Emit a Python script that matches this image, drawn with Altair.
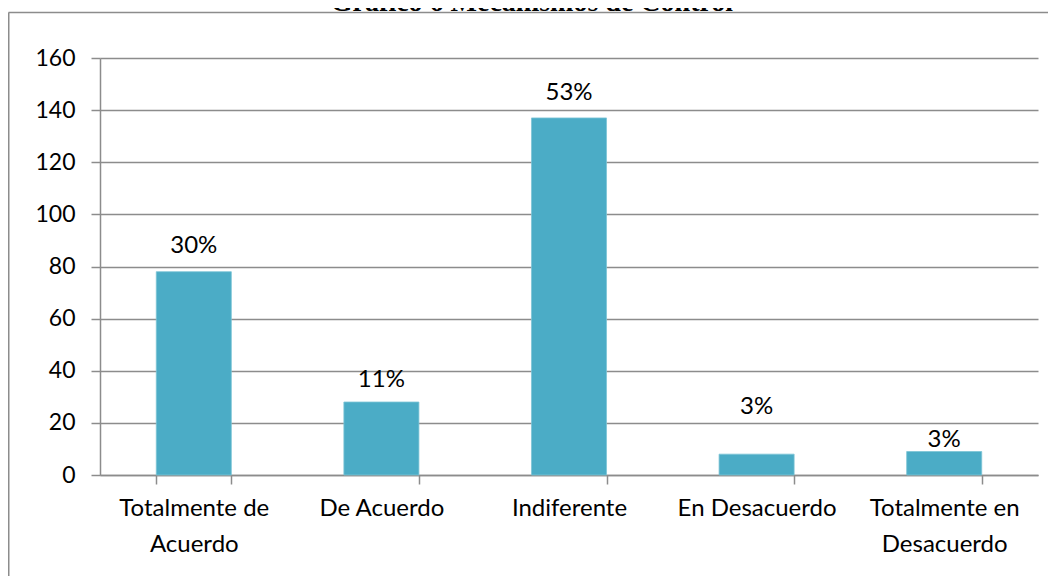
import altair as alt
import pandas as pd

categories = ["Totalmente de Acuerdo", "De Acuerdo", "Indiferente", "En Desacuerdo", "Totalmente en Desacuerdo"]
values = [78, 28, 137, 8, 9]
pct_labels = ["30%", "11%", "53%", "3%", "3%"]
label_at = [88, 36.5, 146.5, 26, 13.5]
y_ticks = [0, 20, 40, 60, 80, 100, 120, 140, 160]
title_text = "Gráfico  6 Mecanismos de Control"

line_breaks = {
    "Totalmente de Acuerdo": ["Totalmente de", "Acuerdo"],
    "Totalmente en Desacuerdo": ["Totalmente en", "Desacuerdo"],
}

df = pd.DataFrame({"cat": categories, "val": values, "lab": pct_labels, "lab_at": label_at})

expr = "datum.label"
for k, v in line_breaks.items():
    expr = f"datum.label == '{k}' ? ['{v[0]}', '{v[1]}'] : ({expr})"

FONT = "Lato"
GRAY = "#8c8c8c"
W, H = 938, 417
PL, PT, PR, PB = 92, 50, 10, 101

x_enc = alt.X(
    "cat:N", sort=categories, title=None,
    scale=alt.Scale(paddingInner=0.6, paddingOuter=0.3),
    axis=alt.Axis(
        labelExpr=expr, labelAngle=0, labelFont=FONT, labelFontSize=24,
        labelColor="black", labelLineHeight=36, labelPadding=12,
        tickBand="extent", tickSize=9, tickColor=GRAY, tickWidth=1.5,
        domainColor=GRAY, domainWidth=1.5, grid=False, labelBaseline="top",
    ),
)
y_scale = alt.Scale(domain=[0, 160], nice=False)

bars = alt.Chart(df).mark_bar(color="#4BACC6", stroke="#7cc4d6", strokeWidth=0.8).encode(
    x=x_enc,
    y=alt.Y(
        "val:Q", scale=y_scale, title=None,
        axis=alt.Axis(
            values=y_ticks, labelFont=FONT, labelFontSize=23, labelColor="black",
            tickSize=9, tickColor=GRAY, tickWidth=1.5, labelPadding=16,
            domainColor=GRAY, domainWidth=1.5, gridColor=GRAY, gridWidth=1.5,
        ),
    ),
)

texts = alt.Chart(df).mark_text(font=FONT, fontSize=24, color="black", baseline="middle").encode(
    x=alt.X("cat:N", sort=categories),
    y=alt.Y("lab_at:Q", scale=y_scale),
    text="lab:N",
)

one = pd.DataFrame({"t": [title_text]})
frame_top = alt.Chart(one).mark_rule(color=GRAY, strokeWidth=1.5).encode(
    x=alt.value(-PL + 0.5), x2=alt.value(W + PR), y=alt.value(-PT + 4.5)
)
frame_left = alt.Chart(one).mark_rule(color=GRAY, strokeWidth=1.5).encode(
    x=alt.value(-PL + 0.75), y=alt.value(-PT + 4.5), y2=alt.value(H + PB)
)
title = alt.Chart(one).mark_text(
    font="Liberation Serif", fontWeight="bold", fontSize=28, color="black",
    baseline="alphabetic", align="center",
).encode(x=alt.value(432), y=alt.value(-PT + 3), text="t:N")

chart = alt.layer(bars, texts, frame_top, frame_left, title).properties(
    width=W, height=H,
    autosize=alt.AutoSizeParams(type="none"),
    padding={"left": PL, "top": PT, "right": PR, "bottom": PB},
).configure_view(stroke=None).configure_axis(gridColor=GRAY)

chart.save("out.html", embed_options={"renderer": "svg", "actions": False})
